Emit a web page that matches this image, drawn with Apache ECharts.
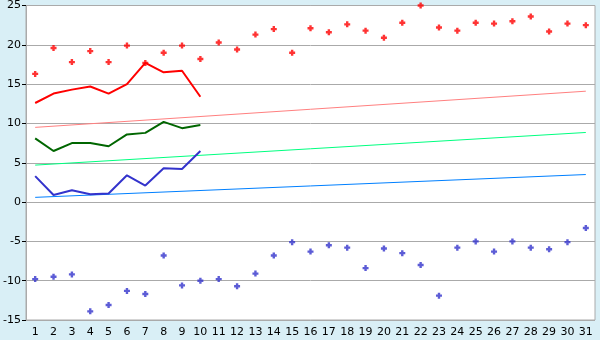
<!DOCTYPE html>
<html>
<head>
<meta charset="utf-8">
<script src="https://cdn.jsdelivr.net/npm/echarts@6/dist/echarts.min.js"></script>
<style>
html,body{margin:0;padding:0;background:#d9eff6;}
#c{width:600px;height:340px;}
</style>
</head>
<body>
<div id="c"></div>
<script>
const days = ['1','2','3','4','5','6','7','8','9','10','11','12','13','14','15','16','17','18','19','20','21','22','23','24','25','26','27','28','29','30','31'];
const maxPoints = [16.3,19.6,17.8,19.2,17.8,19.9,17.7,19.0,19.9,18.2,20.3,19.4,21.3,22.0,19.0,22.1,21.6,22.6,21.8,20.9,22.8,25.0,22.2,21.8,22.8,22.7,23.0,23.6,21.7,22.7,22.5];
const minPoints = [-9.8,-9.5,-9.2,-13.9,-13.1,-11.3,-11.7,-6.8,-10.6,-10.0,-9.8,-10.7,-9.1,-6.8,-5.1,-6.3,-5.5,-5.8,-8.4,-5.9,-6.5,-8.0,-11.9,-5.8,-5.0,-6.3,-5.0,-5.8,-6.0,-5.1,-3.3];
const maxLine = [12.6,13.8,14.3,14.7,13.8,15.0,17.7,16.5,16.7,13.4];
const meanLine = [8.1,6.5,7.5,7.5,7.1,8.6,8.8,10.2,9.4,9.8];
const minLine = [3.3,0.9,1.5,1.0,1.1,3.4,2.1,4.3,4.2,6.5];
const maxTrend = [9.5,14.1];
const meanTrend = [4.7,8.85];
const minTrend = [0.6,3.5];
const yTicks = {min:-15,max:25,interval:5};

const plus = 'path://M1.8,0H4.2V1.8H6V4.2H4.2V6H1.8V4.2H0V1.8H1.8Z';
const trendData = t => [[0,t[0]],[days.length-1,t[1]]];

const chart = echarts.init(document.getElementById('c'));
chart.setOption({
  animation:false,
  backgroundColor:'#d9eff6',
  grid:{left:26,right:5,top:5,bottom:20,show:true,backgroundColor:'#ffffff',borderColor:'#aaaaaa',borderWidth:1},
  xAxis:{type:'category',data:days,boundaryGap:true,
    axisLine:{lineStyle:{color:'#aaaaaa',width:1}},
    axisTick:{alignWithLabel:true,length:5,lineStyle:{color:'#000000'}},
    axisLabel:{color:'#000000',fontSize:11,fontFamily:'DejaVu Sans',margin:7,interval:0}},
  yAxis:{type:'value',min:yTicks.min,max:yTicks.max,interval:yTicks.interval,
    axisLine:{show:true,lineStyle:{color:'#aaaaaa'}},
    axisTick:{show:true,length:4,lineStyle:{color:'#000000'}},
    axisLabel:{color:'#000000',fontSize:11,fontFamily:'DejaVu Sans',margin:5},
    splitLine:{lineStyle:{color:'#aaaaaa',width:1}}},
  series:[
    {type:'line',data:trendData(maxTrend),showSymbol:false,lineStyle:{color:'#ff8080',width:1},z:2},
    {type:'line',data:trendData(meanTrend),showSymbol:false,lineStyle:{color:'#00ff80',width:1},z:2},
    {type:'line',data:trendData(minTrend),showSymbol:false,lineStyle:{color:'#0080ff',width:1},z:2},
    {type:'line',data:maxLine,showSymbol:false,lineStyle:{color:'#ff0000',width:2},z:3},
    {type:'line',data:meanLine,showSymbol:false,lineStyle:{color:'#006600',width:2},z:3},
    {type:'line',data:minLine,showSymbol:false,lineStyle:{color:'#3333cc',width:2},z:3},
    {type:'scatter',data:maxPoints,symbol:plus,symbolSize:6,itemStyle:{color:'#ff0000'},z:4},
    {type:'scatter',data:minPoints,symbol:plus,symbolSize:6,itemStyle:{color:'#3333cc'},z:4}
  ]
});
</script>
</body>
</html>
